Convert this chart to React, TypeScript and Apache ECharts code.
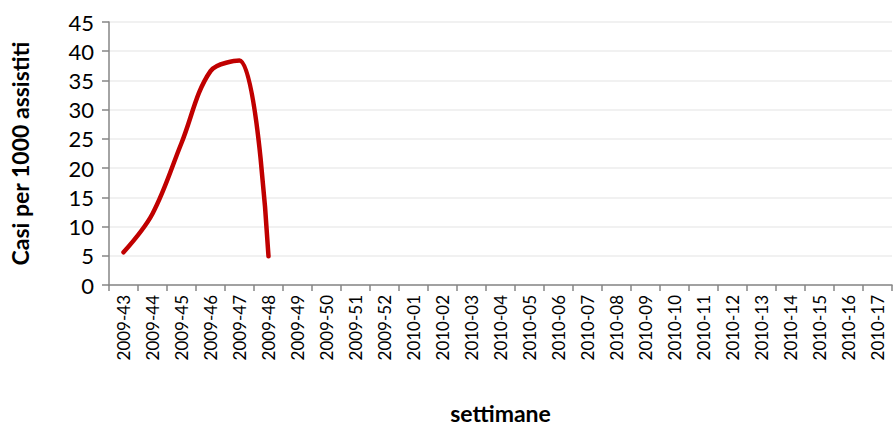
import React, { useEffect, useRef } from "react";
import * as echarts from "echarts";

const weeks = [
  "2009-43", "2009-44", "2009-45", "2009-46", "2009-47", "2009-48", "2009-49",
  "2009-50", "2009-51", "2009-52", "2010-01", "2010-02", "2010-03", "2010-04",
  "2010-05", "2010-06", "2010-07", "2010-08", "2010-09", "2010-10", "2010-11",
  "2010-12", "2010-13", "2010-14", "2010-15", "2010-16", "2010-17",
];
const casi = [5.6, 12.2, 24.3, 36.6, 38.4, 4.9];

const FONT = "Lato, 'Open Sans', sans-serif";

export default function App() {
  const ref = useRef<HTMLDivElement>(null);
  useEffect(() => {
    if (!ref.current) return;
    const chart = echarts.init(ref.current, null, { renderer: "svg" });
    chart.setOption({
      animation: false,
      backgroundColor: "#ffffff",
      grid: { left: 106, right: 1, top: 22, bottom: 147, containLabel: false },
      xAxis: {
        type: "category",
        data: weeks,
        boundaryGap: true,
        name: "settimane",
        nameLocation: "middle",
        nameGap: 116,
        nameTextStyle: { fontFamily: FONT, fontSize: 23, fontWeight: "bold", color: "#000" },
        axisLine: { lineStyle: { color: "#868686", width: 1.5 } },
        axisTick: { show: true, length: 6, lineStyle: { color: "#868686", width: 1.5 } },
        axisLabel: { rotate: 90, fontFamily: FONT, fontSize: 17, color: "#000", margin: 10, interval: 0 },
        splitLine: { show: false },
      },
      yAxis: {
        type: "value",
        min: 0,
        max: 45,
        interval: 5,
        name: "Casi per 1000 assistiti",
        nameLocation: "middle",
        nameGap: 78,
        nameTextStyle: { fontFamily: FONT, fontSize: 23, fontWeight: "bold", color: "#000" },
        axisLine: { show: true, lineStyle: { color: "#868686", width: 1.5 } },
        axisTick: { show: true, length: 7, lineStyle: { color: "#868686", width: 1.5 } },
        axisLabel: { fontFamily: FONT, fontSize: 22, color: "#000", margin: 15 },
        splitLine: { show: true, lineStyle: { color: "#ececec", width: 1.5 } },
      },
      series: [
        {
          type: "line",
          data: casi,
          smooth: 0.35,
          symbol: "none",
          lineStyle: { color: "#c00000", width: 4.5, cap: "round", join: "round" },
        },
      ],
    });
    return () => chart.dispose();
  }, []);
  return (
    <div
      ref={ref}
      style={{ position: "fixed", left: 0, top: 0, width: 893, height: 432 }}
    />
  );
}
